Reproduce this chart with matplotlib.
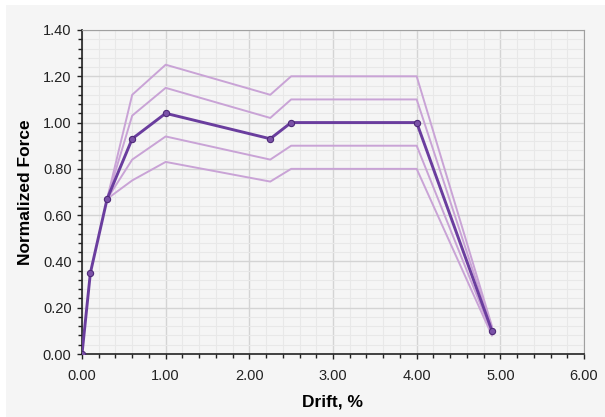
import matplotlib.pyplot as plt
from matplotlib.patches import Rectangle
from matplotlib.ticker import MultipleLocator, FormatStrFormatter

plt.rcParams["font.family"] = ["Liberation Sans", "DejaVu Sans"]

drift = [0.0, 0.1, 0.3, 0.6, 1.0, 2.25, 2.5, 4.0, 4.9]
force = [0.0, 0.35, 0.67, 0.93, 1.04, 0.93, 1.0, 1.0, 0.1]

# bounding curves, starting at drift 0.3
drift_b = [0.3, 0.6, 1.0, 2.25, 2.5, 4.0, 4.9]
upper2 = [0.67, 1.12, 1.25, 1.12, 1.2, 1.2, 0.12]
upper1 = [0.67, 1.03, 1.15, 1.02, 1.1, 1.1, 0.11]
lower1 = [0.67, 0.84, 0.94, 0.84, 0.9, 0.9, 0.09]
lower2 = [0.67, 0.75, 0.83, 0.745, 0.8, 0.8, 0.08]

fig = plt.figure(figsize=(6.05, 4.17), dpi=100, facecolor="white")
fig.patches.append(Rectangle((6 / 605, 0), 1, 1 - 5 / 417, transform=fig.transFigure,
                             facecolor="#f5f5f5", edgecolor="none", zorder=-10))
ax = fig.add_axes([82 / 605, 1 - 354 / 417, (584 - 82) / 605, (354 - 30) / 417])
ax.set_facecolor("#f5f5f5")

light = "#c9a3d6"
for ys in (upper2, upper1, lower1, lower2):
    ax.plot(drift_b, ys, color=light, lw=1.4, zorder=3)
ax.plot(drift, force, color="#6a3d9e", lw=2.1, marker="o", ms=4.5,
        mfc="#7b52a8", mec="#4e2a78", mew=0.8, zorder=4)

ax.set_xlim(0, 6)
ax.set_ylim(0, 1.4)
ax.xaxis.set_major_locator(MultipleLocator(1))
ax.xaxis.set_minor_locator(MultipleLocator(0.2))
ax.yaxis.set_major_locator(MultipleLocator(0.2))
ax.yaxis.set_minor_locator(MultipleLocator(0.04))
ax.xaxis.set_major_formatter(FormatStrFormatter("%.2f"))
ax.yaxis.set_major_formatter(FormatStrFormatter("%.2f"))

ax.grid(which="major", color="#d4d4d4", lw=1, zorder=0)
ax.grid(which="minor", color="#e8e8e8", lw=0.8, zorder=0)
ax.set_axisbelow(True)

for s in ("top", "right"):
    ax.spines[s].set_color("#a0a0a0")
for s in ("left", "bottom"):
    ax.spines[s].set_color("#222222")
    ax.spines[s].set_linewidth(1.2)

ax.tick_params(which="both", direction="out", colors="#222222", labelsize=10.5, labelcolor="#222222")
ax.tick_params(which="major", length=3.5, width=1)
ax.tick_params(which="minor", length=3, width=1)
ax.tick_params(axis="x", pad=7)
ax.tick_params(axis="y", pad=4)

ax.set_xlabel("Drift, %", fontsize=12.5, fontweight="bold")
ax.set_ylabel("Normalized Force", fontsize=12.5, fontweight="bold")
ax.xaxis.set_label_coords(0.5, -0.124)
ax.yaxis.set_label_coords(-0.098, 0.5)

fig.savefig("out.png", dpi=100, facecolor="white")
